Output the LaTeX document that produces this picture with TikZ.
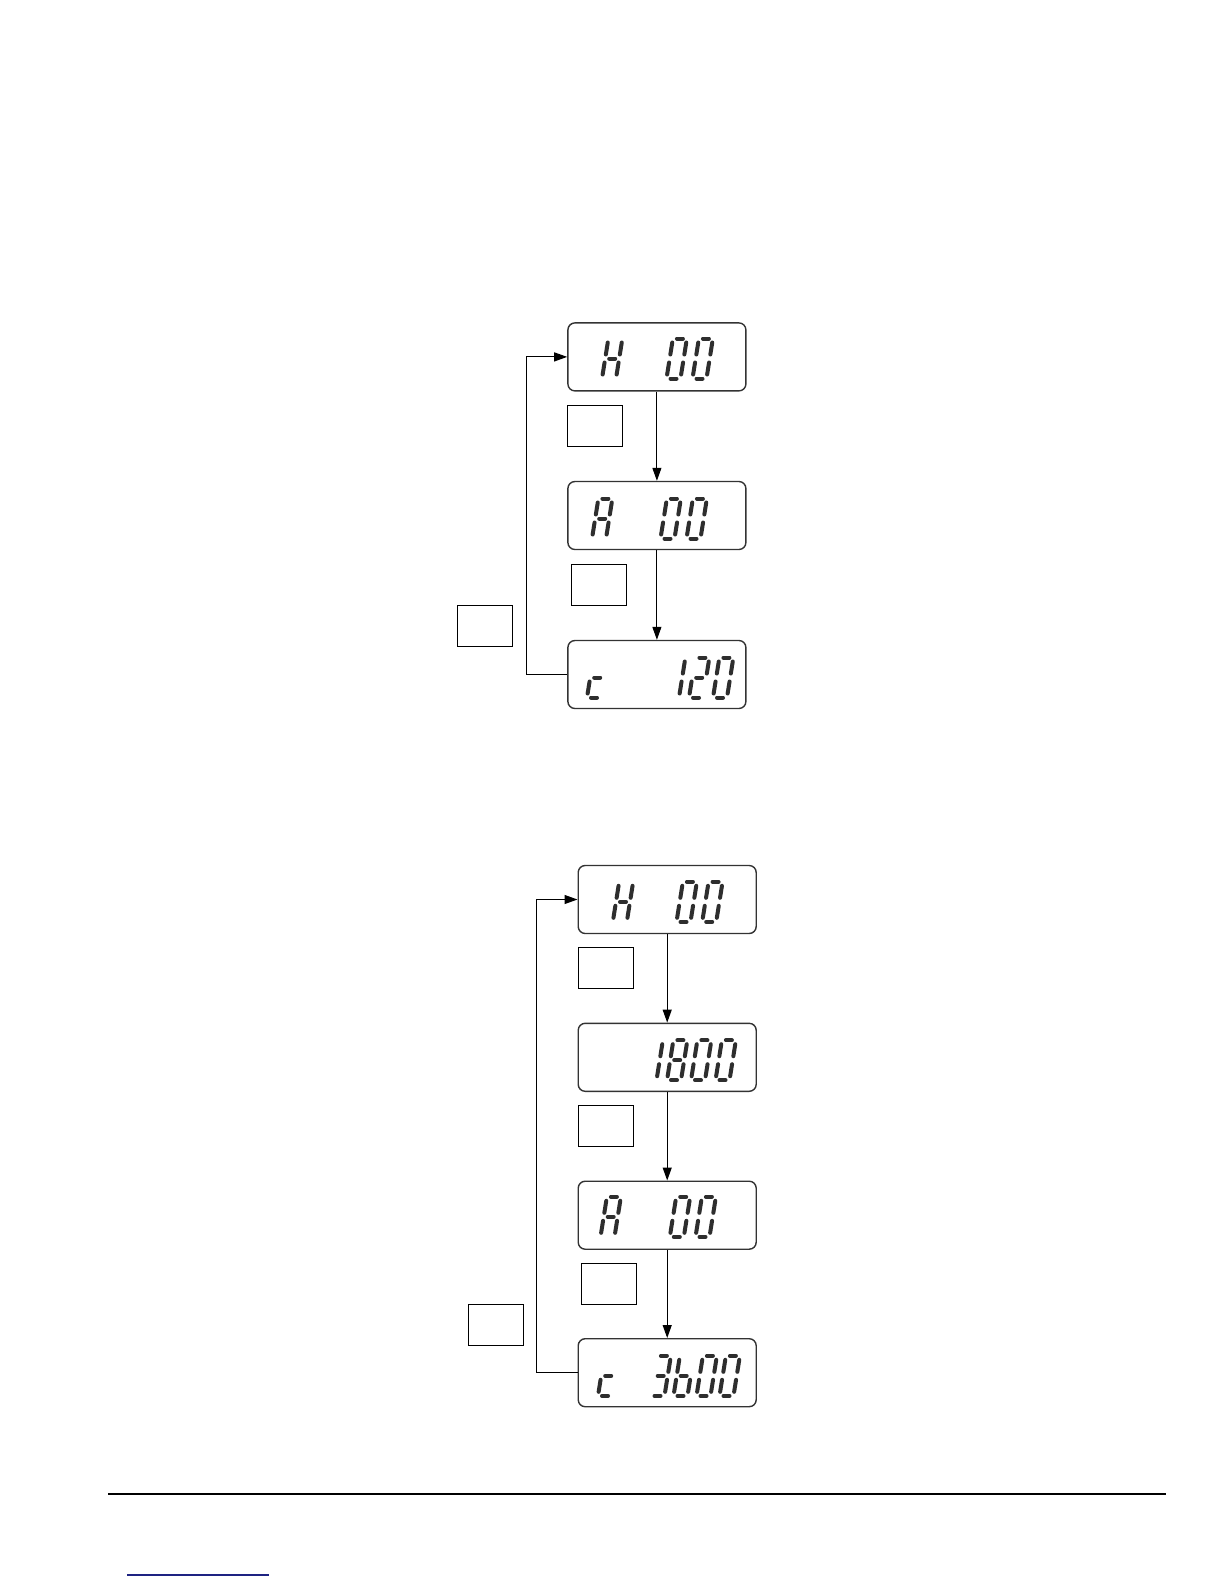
\documentclass[tikz,border=0pt]{standalone}
\usetikzlibrary{arrows.meta}
\tikzset{
  lcd/.style={draw=black!80, line width=1.4pt, rounded corners=7pt, minimum width=178pt, minimum height=68pt, inner sep=0pt},
  keybox/.style={draw=black, line width=1.1pt, minimum width=55pt, minimum height=41pt, inner sep=0pt},
  conn/.style={draw=black, line width=1.1pt, -{Triangle[length=13pt,width=9pt]}},
  lcdseg/.style={draw=black!82, line width=4pt, line cap=round},
}
\def\lcdsega{\draw[lcdseg] (4,40)--(10,40);}
\def\lcdsegb{\draw[lcdseg] (14,36)--(14,24);}
\def\lcdsegc{\draw[lcdseg] (14,16)--(14,4);}
\def\lcdsegd{\draw[lcdseg] (4,0)--(10,0);}
\def\lcdsege{\draw[lcdseg] (0,16)--(0,4);}
\def\lcdsegf{\draw[lcdseg] (0,36)--(0,24);}
\def\lcdsegg{\draw[lcdseg] (4,20)--(10,20);}
\newcommand\lcddigit[3]{\begin{scope}[shift={(#1,-#2)},xslant=0.16]\foreach \s in {#3}{\csname lcdseg\s\endcsname}\end{scope}}
\begin{document}
\begin{tikzpicture}[x=1pt,y=1pt]
\useasboundingbox[fill=white] (0,0) rectangle (1224,-1584);

% ---------- upper diagram ----------
\node[lcd] (D1) at (656.9,-356.9) {};
\node[lcd] (D2) at (656.9,-515.5) {};
\node[lcd] (D3) at (656.9,-674.5) {};
\node[keybox] (B1) at (595.2,-425.8) {};
\node[keybox] (B2) at (598.8,-584.8) {};
\node[keybox] (B3) at (484.8,-625.8) {};
\draw[conn] (D1.south) -- (D2.north);
\draw[conn] (D2.south) -- (D3.north);
\draw[conn] (D3.west) -- ++(-41,0) |- (D1.west);
% H  00
\lcddigit{602}{378.5}{b,c,e,f,g}
\lcddigit{666.5}{378.5}{a,b,c,d,e,f}
\lcddigit{692.5}{378.5}{a,b,c,d,e,f}
% A  00
\lcddigit{592}{538.5}{a,b,c,e,f,g}
\lcddigit{660.5}{538.5}{a,b,c,d,e,f}
\lcddigit{686.5}{538.5}{a,b,c,d,e,f}
% c  120
\lcddigit{587}{697.5}{d,e,g}
\lcddigit{665}{697.5}{b,c}
\lcddigit{689}{697.5}{a,b,g,e,d}
\lcddigit{713}{697.5}{a,b,c,d,e,f}

% ---------- lower diagram ----------
\node[lcd] (E1) at (667.2,-899.5) {};
\node[lcd] (E2) at (667.2,-1057.3) {};
\node[lcd] (E3) at (667.2,-1215.2) {};
\node[lcd] (E4) at (667.2,-1372.7) {};
\node[keybox] (C1) at (605.8,-968.4) {};
\node[keybox] (C2) at (605.8,-1125.8) {};
\node[keybox] (C3) at (609.3,-1283.7) {};
\node[keybox] (C4) at (496.3,-1324.8) {};
\draw[conn] (E1.south) -- (E2.north);
\draw[conn] (E2.south) -- (E3.north);
\draw[conn] (E3.south) -- (E4.north);
\draw[conn] (E4.west) -- ++(-41,0) |- (E1.west);
% H  00
\lcddigit{612.8}{921.8}{b,c,e,f,g}
\lcddigit{676.5}{921.8}{a,b,c,d,e,f}
\lcddigit{702.2}{921.8}{a,b,c,d,e,f}
% 1800
\lcddigit{642.5}{1080.2}{b,c}
\lcddigit{667}{1080.2}{a,b,c,d,e,f,g}
\lcddigit{691}{1080.2}{a,b,c,d,e,f}
\lcddigit{715.5}{1080.2}{a,b,c,d,e,f}
% A  00
\lcddigit{600.5}{1236.8}{a,b,c,e,f,g}
\lcddigit{669.8}{1236.8}{a,b,c,d,e,f}
\lcddigit{695.5}{1236.8}{a,b,c,d,e,f}
% c  3600
\lcddigit{598}{1395.8}{d,e,g}
\lcddigit{650.5}{1395.8}{a,b,c,d,g}
\lcddigit{673.5}{1395.8}{c,d,e,f,g}
\lcddigit{696.5}{1395.8}{a,b,c,d,e,f}
\lcddigit{719.5}{1395.8}{a,b,c,d,e,f}

% ---------- footer ----------
\draw[line width=2.2pt] (108,-1494) -- (1166,-1494);
\draw[line width=1.2pt, draw={rgb,255:red,30;green,35;blue,130}] (127,-1575) -- (269,-1575);
\end{tikzpicture}
\end{document}
